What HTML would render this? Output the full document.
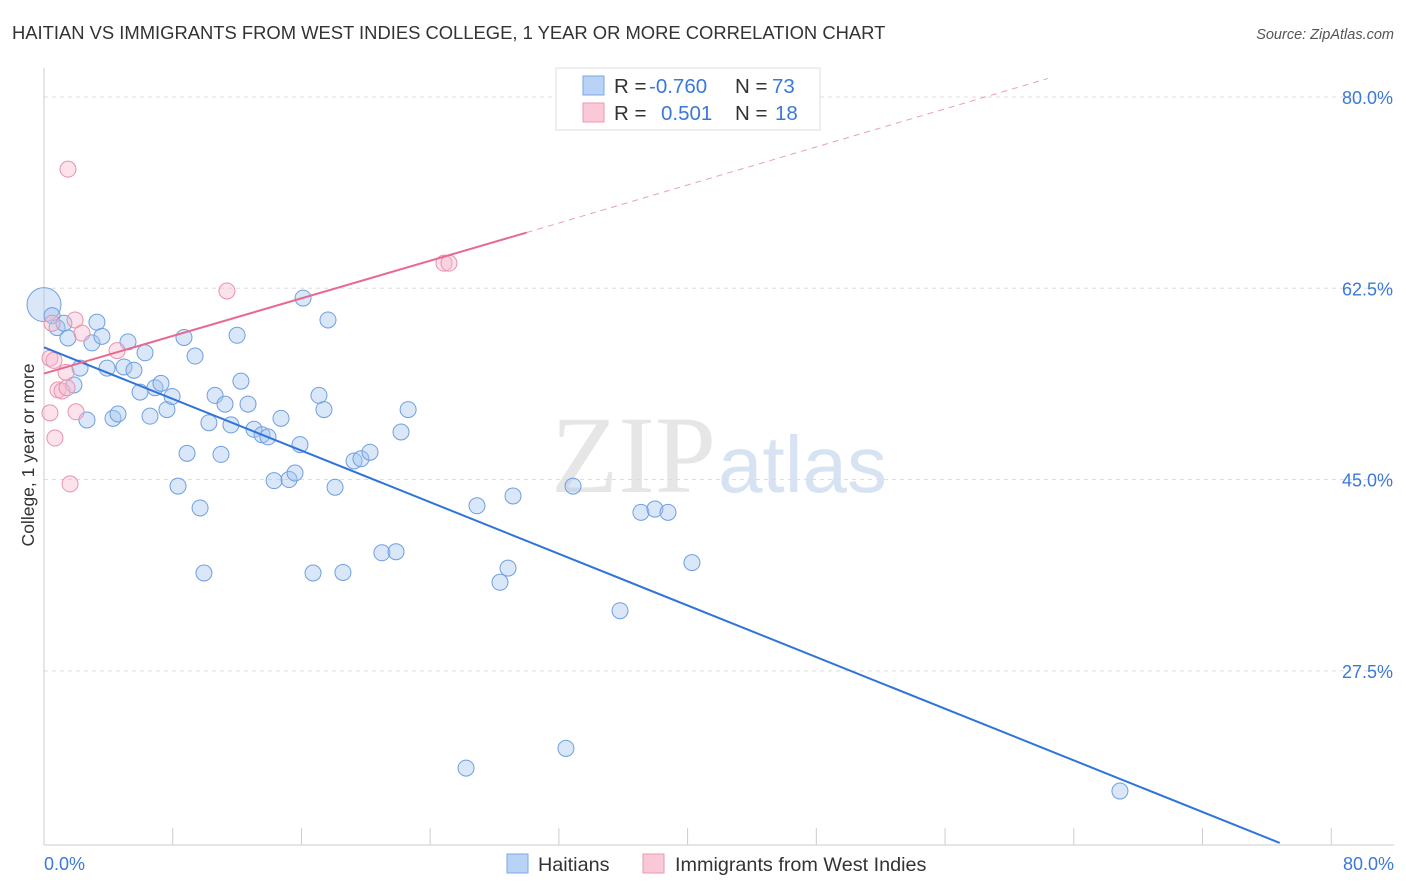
<!DOCTYPE html>
<html><head><meta charset="utf-8"><style>
body{margin:0;background:#fff;font-family:"Liberation Sans",sans-serif}
svg{display:block}
</style></head><body>
<svg id="chart" width="1406" height="892">
<text x="12" y="39" font-size="18.4" fill="#333">HAITIAN VS IMMIGRANTS FROM WEST INDIES COLLEGE, 1 YEAR OR MORE CORRELATION CHART</text>
<text x="1394" y="39" font-size="14.5" fill="#555" font-style="italic" text-anchor="end">Source: ZipAtlas.com</text>
<text x="34" y="455" font-size="17.5" fill="#333" text-anchor="middle" transform="rotate(-90 34 455)">College, 1 year or more</text>
<text x="716" y="492" font-size="110" fill="#e6e6e6" text-anchor="end" font-family="Liberation Serif,serif">ZIP</text>
<text x="718" y="492" font-size="80" fill="#d7e3f3">atlas</text>
<g id="grid"></g><g id="marks"></g>
<g>
<rect x="556" y="68" width="264" height="62" fill="#fff" stroke="#ddd"/>
<rect x="583" y="76" width="21" height="19" fill="#b8d3f5" stroke="#7aa8e6"/>
<rect x="583" y="103" width="21" height="19" fill="#fac8d6" stroke="#ea9ab2"/>
<text x="614" y="93" font-size="20.5" fill="#333">R = <tspan fill="#3b78d8" x="649">-0.760</tspan></text>
<text x="735" y="93" font-size="20.5" fill="#333">N = <tspan fill="#3b78d8" x="772">73</tspan></text>
<text x="614" y="120" font-size="20.5" fill="#333">R = <tspan fill="#3b78d8" x="661">0.501</tspan></text>
<text x="735" y="120" font-size="20.5" fill="#333">N = <tspan fill="#3b78d8" x="775">18</tspan></text>
</g>
<g>
<rect x="507" y="854" width="21" height="19" fill="#b8d3f5" stroke="#7aa8e6"/>
<text x="538" y="871" font-size="19.8" fill="#333">Haitians</text>
<rect x="643" y="854" width="21" height="19" fill="#fac8d6" stroke="#ea9ab2"/>
<text x="675" y="871" font-size="19.8" fill="#333">Immigrants from West Indies</text>
</g>
</svg>
<script>
const yTicks=[80,62.5,45,27.5];
const yTickLabels=["80.0%","62.5%","45.0%","27.5%"];
const xTickCount=10;
const blueX=[0,0.5,0.81,1.24,1.49,1.86,2.24,2.67,2.98,3.29,3.6,3.92,4.29,4.6,4.97,5.22,5.59,5.97,6.28,6.59,6.9,7.27,7.64,7.96,8.33,8.7,8.89,9.39,9.7,9.94,10.25,10.63,11.0,11.25,11.62,12.0,12.24,12.68,13.05,13.55,13.92,14.3,14.73,15.23,15.6,15.91,16.1,16.72,17.09,17.4,17.65,18.09,18.58,19.27,19.7,20.26,21.0,21.88,22.19,22.63,26.23,26.91,28.34,28.84,29.15,32.44,32.88,35.8,37.1,37.97,38.78,40.27,66.87];
const blueY=[61.0,60.0,58.9,59.3,57.95,53.65,55.2,50.45,57.5,59.4,58.1,55.2,50.6,51.0,55.3,57.6,55.0,53.0,56.6,50.8,53.4,53.8,51.4,52.6,44.4,58.0,47.4,56.3,42.4,36.45,50.2,52.7,47.3,51.9,50.0,58.2,54.0,51.9,49.6,49.1,48.9,44.9,50.6,45.0,45.6,48.2,61.6,36.45,52.7,51.4,59.6,44.3,36.5,46.7,46.9,47.5,38.3,38.4,49.35,51.4,18.6,42.6,35.6,36.9,43.5,20.4,44.4,33.0,42.0,42.3,42.0,37.4,16.5];
const pinkX=[1.49,11.37,24.86,25.17,1.93,0.5,2.36,4.54,0.37,0.62,1.37,0.87,1.12,1.43,1.99,0.37,0.68,1.62];
const pinkY=[73.4,62.25,64.8,64.8,59.6,59.3,58.4,56.8,56.1,55.9,54.8,53.2,53.1,53.4,51.2,51.1,48.8,44.6];
const blueTrend=[0,57.1,76.8,11.75];
const pinkTrend=[0,54.7,30.0,67.6];
const pinkTrendExt=[30.0,67.6,62.4,81.7];

const sx=v=>44+v*16.09, sy=v=>97+(80-v)*10.93;
const NS="http://www.w3.org/2000/svg";
function mk(tag,attrs,parent){const e=document.createElementNS(NS,tag);for(const k in attrs)e.setAttribute(k,attrs[k]);parent.appendChild(e);return e;}
const grid=document.getElementById('grid'), marks=document.getElementById('marks');
yTicks.forEach((t,i)=>{
 const l=mk('line',{x1:44,x2:1394,y1:sy(t),y2:sy(t),stroke:'#ddd','stroke-dasharray':'4,4'},grid);
 
 
 const tx=mk('text',{x:1393,y:sy(t)+7,'font-size':18,fill:'#3b78d8','text-anchor':'end'},grid);
 tx.textContent=yTickLabels[i];
 
 
});
const ax=mk('line',{x1:44,x2:44,y1:68,y2:845,stroke:'#ccc'},grid);


const bx=mk('line',{x1:44,x2:1394,y1:845,y2:845,stroke:'#ccc'},grid);


for(let i=1;i<=xTickCount;i++){
 const t=mk('line',{x1:sx(i*8),x2:sx(i*8),y1:828,y2:845,stroke:'#ccc'},grid);
 
 
}
const xl0=mk('text',{x:44,y:870,'font-size':18,fill:'#3b78d8'},grid);xl0.textContent='0.0%';


const xl1=mk('text',{x:1394,y:870,'font-size':18,fill:'#3b78d8','text-anchor':'end'},grid);xl1.textContent='80.0%';



blueX.forEach((x,i)=>{
 const c=mk('circle',{cx:sx(x),cy:sy(blueY[i]),r:i===0?17:8,fill:'rgba(160,196,240,0.4)',stroke:'#6f9fe0','stroke-width':1},marks);
 
 
});
pinkX.forEach((x,i)=>{
 const c=mk('circle',{cx:sx(x),cy:sy(pinkY[i]),r:8,fill:'rgba(247,184,204,0.4)',stroke:'#e892ad','stroke-width':1},marks);
 
 
});
const bl=mk('line',{x1:sx(blueTrend[0]),y1:sy(blueTrend[1]),x2:sx(blueTrend[2]),y2:sy(blueTrend[3]),stroke:'#2f74d8','stroke-width':2},marks);


const pl=mk('line',{x1:sx(pinkTrend[0]),y1:sy(pinkTrend[1]),x2:sx(pinkTrend[2]),y2:sy(pinkTrend[3]),stroke:'#e8698f','stroke-width':2},marks);


const pd=mk('line',{x1:sx(pinkTrendExt[0]),y1:sy(pinkTrendExt[1]),x2:sx(pinkTrendExt[2]),y2:sy(pinkTrendExt[3]),stroke:'#e8a0b6','stroke-width':1,'stroke-dasharray':'6,5'},marks);


</script>
</body></html>
